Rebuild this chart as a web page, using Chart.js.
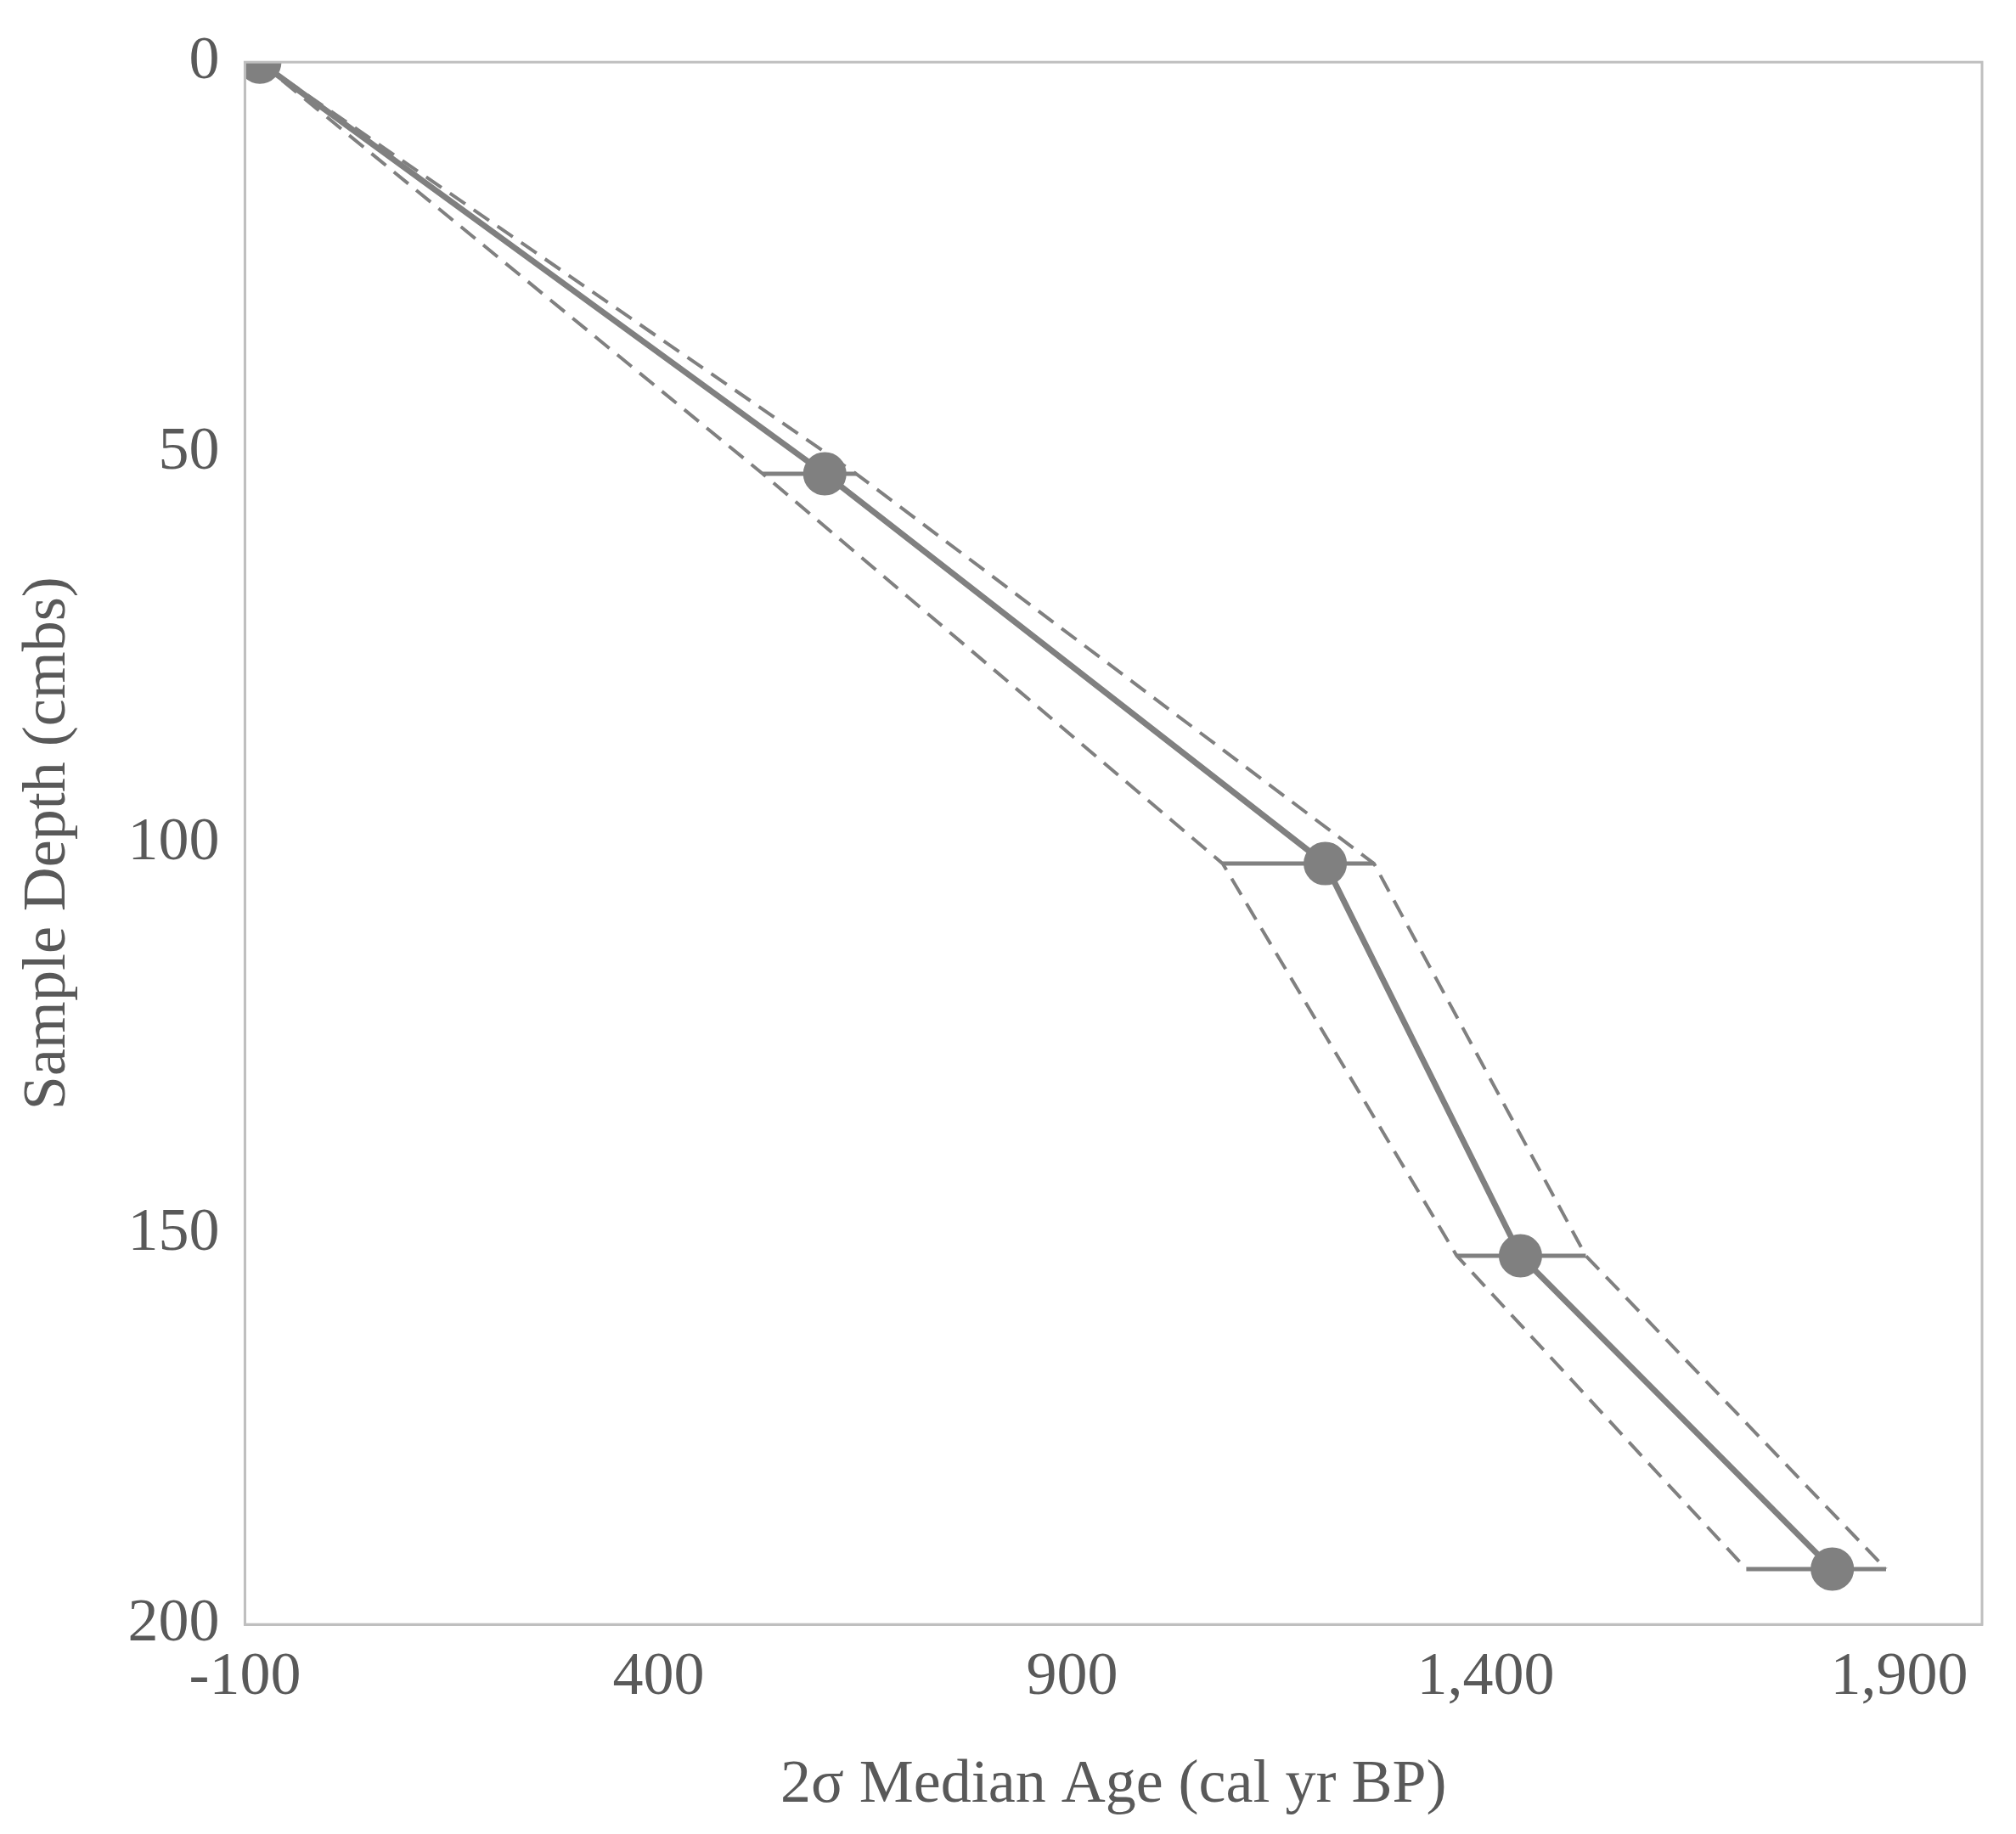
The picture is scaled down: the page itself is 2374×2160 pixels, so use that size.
<!DOCTYPE html>
<html><head><meta charset="utf-8">
<script src="https://cdn.jsdelivr.net/npm/chart.js@4"></script>
<style>html,body{margin:0;background:#fff}#w{width:2374px;height:2160px}</style>
</head><body><div id="w"><canvas id="c"></canvas></div>
<script>
const depths=[0,52.7,102.6,152.8,192.9];
const medianAge=[-82,601,1206,1442,1819];
const minAge=[-82,526,1082,1365,1715];
const maxAge=[-82,639,1265,1521,1884];
const xTicks=[-100,400,900,1400,1900];
const yTicks=[0,50,100,150,200];
const gray='#808080';
const ds=[];
ds.push({data:depths.map((d,i)=>({x:maxAge[i],y:d})),showLine:true,borderColor:gray,borderWidth:4,borderDash:[22,12],pointRadius:0});
ds.push({data:depths.map((d,i)=>({x:minAge[i],y:d})),showLine:true,borderColor:gray,borderWidth:4,borderDash:[22,12],pointRadius:0});
for(let i=1;i<depths.length;i++){
 ds.push({data:[{x:minAge[i],y:depths[i]},{x:maxAge[i],y:depths[i]}],showLine:true,borderColor:gray,borderWidth:5,pointRadius:0});
}
ds.push({data:depths.map((d,i)=>({x:medianAge[i],y:d})),showLine:true,borderColor:gray,borderWidth:7,pointRadius:22,pointBackgroundColor:gray,pointBorderColor:gray});
const font={family:'Liberation Serif',size:72};
new Chart(document.getElementById('c'),{type:'scatter',data:{datasets:ds},
options:{responsive:true,maintainAspectRatio:false,animation:false,
layout:{padding:{top:50,right:40,left:10,bottom:10}},
plugins:{legend:{display:false},tooltip:{enabled:false}},
scales:{
x:{min:-100,max:2000,afterBuildTicks:a=>{a.ticks=xTicks.map(v=>({value:v}))},
 grid:{display:false,drawTicks:false},border:{color:'#bfbfbf',width:3},
 ticks:{color:'#595959',font,padding:20},
 title:{display:true,text:'2σ Median Age (cal yr BP)',color:'#595959',font,padding:{top:20}}},
y:{reverse:true,min:0,max:200,afterBuildTicks:a=>{a.ticks=yTicks.map(v=>({value:v}))},
 grid:{display:false,drawTicks:false},border:{color:'#bfbfbf',width:3},
 ticks:{color:'#595959',font,padding:30},
 title:{display:true,text:'Sample Depth (cmbs)',color:'#595959',font,padding:{bottom:20}}}
}},
plugins:[{id:'frame',afterDraw(c){const a=c.chartArea,x=c.ctx;x.save();x.strokeStyle='#bfbfbf';x.lineWidth=3;x.strokeRect(a.left,a.top,a.right-a.left,a.bottom-a.top);x.restore();}}]
});
</script></body></html>
